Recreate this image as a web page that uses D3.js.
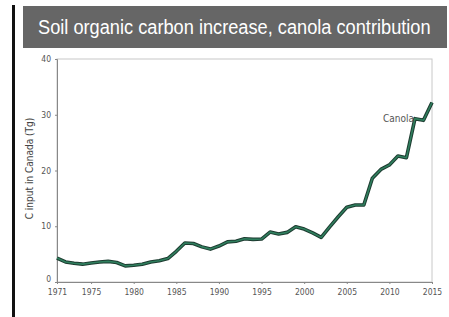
<!DOCTYPE html>
<html>
<head>
<meta charset="utf-8">
<script src="https://cdn.jsdelivr.net/npm/d3@7"></script>
<style>
  body { margin: 0; background: #fff; }
  svg { display: block; }
  .tick text { font-family: "DejaVu Sans Condensed", "Liberation Sans", sans-serif; font-size: 8.5px; fill: #555; }
</style>
</head>
<body>
<div id="chart"></div>
<script>
// C input from canola, Tg per year
const years = d3.range(1971, 2016);
const carbon = [
  4.3, 3.6, 3.35, 3.2, 3.4, 3.6, 3.7, 3.5, 2.9, 3.0,
  3.2, 3.6, 3.8, 4.2, 5.5, 7.0, 6.9, 6.3, 5.9, 6.45,
  7.2, 7.3, 7.75, 7.65, 7.7, 8.95, 8.6, 8.9, 9.9, 9.5,
  8.8, 8.0, 9.9, 11.7, 13.4, 13.8, 13.8, 18.6, 20.2, 21.0,
  22.6, 22.3, 29.3, 29.0, 32.2
];
const yTicks = [0, 10, 20, 30, 40];
const xTicks = [1971, 1975, 1980, 1985, 1990, 1995, 2000, 2005, 2010, 2015];

const W = 449, H = 317;
const margin = { top: 59, right: 17, bottom: 35, left: 57 };
const width = W - margin.left - margin.right,
      height = H - margin.top - margin.bottom;

const svg = d3.select('#chart').append('svg')
    .attr('width', W)
    .attr('height', H);

// black bar on the left edge
svg.append('rect')
    .attr('x', 12).attr('y', 5)
    .attr('width', 3).attr('height', H - 5)
    .attr('fill', '#111');

// title box
svg.append('rect')
    .attr('x', 23).attr('y', 6)
    .attr('width', 424).attr('height', 42)
    .attr('fill', '#666');

// condensed look: draw in Liberation Sans and squeeze horizontally
const title = svg.append('text')
    .attr('x', 0).attr('y', 0)
    .attr('dominant-baseline', 'middle')
    .style('font-family', '"Liberation Sans", Arial, sans-serif')
    .style('font-size', '21px')
    .style('fill', '#fff')
    .text('Soil organic carbon increase, canola contribution');
const tw = title.node().getComputedTextLength();
title.attr('transform', 'translate(38,28) scale(' + (393 / tw) + ',1)');

const g = svg.append('g')
    .attr('transform', 'translate(' + margin.left + ',' + margin.top + ')');

const x = d3.scaleLinear()
    .domain([1971, 2015])
    .range([0, width]);

const y = d3.scaleLinear()
    .domain([0, 40])
    .range([height, 0]);

// light frame
g.append('rect')
    .attr('width', width).attr('height', height)
    .attr('fill', 'none')
    .attr('stroke', '#c8c8c8');

const xAxis = g.append('g')
    .attr('transform', 'translate(0,' + height + ')')
    .call(d3.axisBottom(x).tickValues(xTicks).tickFormat(d3.format('d')).tickSize(2).tickPadding(5));

const yAxis = g.append('g')
    .call(d3.axisLeft(y).tickValues(yTicks).tickSize(2).tickPadding(4));

// lift the zero label clear of 1971
yAxis.selectAll('.tick text').filter(d => d === 0).attr('dy', '-0.05em');

[xAxis, yAxis].forEach(a => {
    a.select('.domain').attr('stroke', '#888');
    a.selectAll('.tick line').attr('stroke', '#888');
});

svg.append('text')
    .attr('transform', 'translate(33,' + (margin.top + height / 2 - 2) + ') rotate(-90)')
    .attr('text-anchor', 'middle')
    .style('font-family', '"DejaVu Sans Condensed", "Liberation Sans", sans-serif')
    .style('font-size', '10px')
    .style('fill', '#444')
    .text('C input in Canada (Tg)');

const line = d3.line()
    .x((d, i) => x(years[i]))
    .y(d => y(d));

g.append('path')
    .datum(carbon)
    .attr('d', line)
    .attr('fill', 'none')
    .attr('stroke', '#1d3b30')
    .attr('stroke-width', 3.6)
    .attr('stroke-linejoin', 'round');

g.append('path')
    .datum(carbon)
    .attr('d', line)
    .attr('fill', 'none')
    .attr('stroke', '#2f7f5e')
    .attr('stroke-width', 1.6)
    .attr('stroke-linejoin', 'round');

g.append('text')
    .attr('x', x(2013) - 1)
    .attr('y', y(29.2))
    .attr('text-anchor', 'end')
    .attr('dominant-baseline', 'middle')
    .style('font-family', '"DejaVu Sans Condensed", "Liberation Sans", sans-serif')
    .style('font-size', '10px')
    .style('fill', '#555')
    .text('Canola');
</script>
</body>
</html>
